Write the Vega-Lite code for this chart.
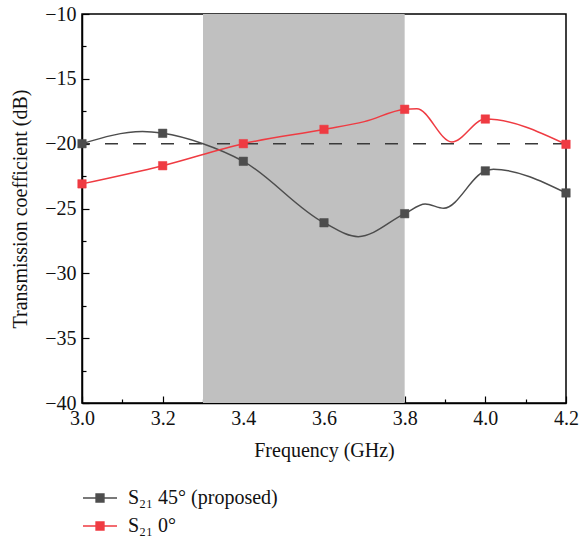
{
  "$schema": "https://vega.github.io/schema/vega-lite/v6.json",
  "autosize": {"type": "none"},
  "padding": {"left": 82, "top": 14, "right": 16, "bottom": 141},
  "width": 484,
  "height": 389,
  "background": "white",
  "config": {
    "view": {"stroke": "black", "strokeWidth": 1.5},
    "font": "Liberation Serif",
    "axis": {
      "grid": false,
      "domainColor": "black",
      "domainWidth": 1.5,
      "tickColor": "black",
      "tickWidth": 1.2,
      "labelFont": "Liberation Serif",
      "labelFontSize": 20,
      "labelColor": "#111",
      "titleFont": "Liberation Serif",
      "titleFontSize": 20,
      "titleFontWeight": "normal",
      "titleColor": "#111"
    },
    "legend": {
      "orient": "none",
      "legendX": 0,
      "legendY": 466,
      "direction": "vertical",
      "symbolType": "M-1,0H-0.23M0.23,0H1M-0.23,-0.23H0.23V0.23H-0.23Z",
      "symbolSize": 1156,
      "symbolStrokeWidth": 1.5,
      "labelFont": "Liberation Serif",
      "labelFontSize": 20,
      "labelColor": "#111",
      "labelOffset": 10,
      "rowPadding": -8,
      "labelLimit": 400
    }
  },
  "datasets": {
    "band": [{"start": 3.3, "end": 3.8}],
    "ref": [{"level": -20}],
    "markers": [
      {"series": "S₂₁ 45° (proposed)", "freq": 3.0, "db": -20.0},
      {"series": "S₂₁ 45° (proposed)", "freq": 3.2, "db": -19.2},
      {"series": "S₂₁ 45° (proposed)", "freq": 3.4, "db": -21.36},
      {"series": "S₂₁ 45° (proposed)", "freq": 3.6, "db": -26.1},
      {"series": "S₂₁ 45° (proposed)", "freq": 3.8, "db": -25.4},
      {"series": "S₂₁ 45° (proposed)", "freq": 4.0, "db": -22.1},
      {"series": "S₂₁ 45° (proposed)", "freq": 4.2, "db": -23.8},
      {"series": "S₂₁ 0°", "freq": 3.0, "db": -23.1},
      {"series": "S₂₁ 0°", "freq": 3.2, "db": -21.7},
      {"series": "S₂₁ 0°", "freq": 3.4, "db": -20.0},
      {"series": "S₂₁ 0°", "freq": 3.6, "db": -18.9},
      {"series": "S₂₁ 0°", "freq": 3.8, "db": -17.35},
      {"series": "S₂₁ 0°", "freq": 4.0, "db": -18.1},
      {"series": "S₂₁ 0°", "freq": 4.2, "db": -20.05}
    ],
    "curves": [
      {"series": "S₂₁ 45° (proposed)", "freq": 3.0, "db": -20.0},
      {"series": "S₂₁ 45° (proposed)", "freq": 3.15, "db": -19.07},
      {"series": "S₂₁ 45° (proposed)", "freq": 3.2, "db": -19.2},
      {"series": "S₂₁ 45° (proposed)", "freq": 3.3, "db": -20.0},
      {"series": "S₂₁ 45° (proposed)", "freq": 3.4, "db": -21.36},
      {"series": "S₂₁ 45° (proposed)", "freq": 3.6, "db": -26.1},
      {"series": "S₂₁ 45° (proposed)", "freq": 3.685, "db": -27.17},
      {"series": "S₂₁ 45° (proposed)", "freq": 3.8, "db": -25.4},
      {"series": "S₂₁ 45° (proposed)", "freq": 3.851, "db": -24.65},
      {"series": "S₂₁ 45° (proposed)", "freq": 3.897, "db": -24.98},
      {"series": "S₂₁ 45° (proposed)", "freq": 4.0, "db": -22.1},
      {"series": "S₂₁ 45° (proposed)", "freq": 4.02, "db": -21.98},
      {"series": "S₂₁ 45° (proposed)", "freq": 4.2, "db": -23.8},
      {"series": "S₂₁ 0°", "freq": 3.0, "db": -23.1},
      {"series": "S₂₁ 0°", "freq": 3.2, "db": -21.7},
      {"series": "S₂₁ 0°", "freq": 3.4, "db": -20.0},
      {"series": "S₂₁ 0°", "freq": 3.6, "db": -18.9},
      {"series": "S₂₁ 0°", "freq": 3.7, "db": -18.3},
      {"series": "S₂₁ 0°", "freq": 3.8, "db": -17.35},
      {"series": "S₂₁ 0°", "freq": 3.83, "db": -17.3},
      {"series": "S₂₁ 0°", "freq": 3.917, "db": -19.87},
      {"series": "S₂₁ 0°", "freq": 4.0, "db": -18.1},
      {"series": "S₂₁ 0°", "freq": 4.2, "db": -20.05}
    ]
  },
  "encoding": {
    "x": {
      "type": "quantitative",
      "scale": {"domain": [3.0, 4.2], "nice": false, "zero": false},
      "axis": {
        "title": "Frequency (GHz)",
        "values": [3.0, 3.1, 3.2, 3.3, 3.4, 3.5, 3.6, 3.7, 3.8, 3.9, 4.0, 4.1, 4.2],
        "labelExpr": "round(datum.value*10) % 2 === 0 ? format(datum.value, '.1f') : ''",
        "tickSize": {"condition": {"test": "round(datum.value*10) % 2 === 0", "value": -7}, "value": -4},
        "labelPadding": 12,
        "titlePadding": 12,
        "labelFlush": false
      }
    },
    "y": {
      "type": "quantitative",
      "scale": {"domain": [-40, -10], "nice": false, "zero": false},
      "axis": {
        "title": "Transmission coefficient (dB)",
        "values": [-40, -37.5, -35, -32.5, -30, -27.5, -25, -22.5, -20, -17.5, -15, -12.5, -10],
        "labelExpr": "datum.value % 5 === 0 ? format(datum.value, 'd') : ''",
        "tickSize": {"condition": {"test": "datum.value % 5 === 0", "value": -7}, "value": -4},
        "labelPadding": 13,
        "titlePadding": 14,
        "labelFlush": false
      }
    }
  },
  "layer": [
    {
      "data": {"name": "band"},
      "mark": {"type": "rect", "color": "#c0c0c0"},
      "encoding": {
        "x": {"field": "start", "type": "quantitative"},
        "x2": {"field": "end"}
      }
    },
    {
      "data": {"name": "ref"},
      "mark": {"type": "rule", "color": "#3a3a3a", "strokeWidth": 1.5, "strokeDash": [13, 15]},
      "encoding": {
        "y": {"field": "level", "type": "quantitative"}
      }
    },
    {
      "data": {"name": "curves"},
      "mark": {"type": "line", "interpolate": "monotone", "strokeWidth": 1.5},
      "encoding": {
        "x": {"field": "freq", "type": "quantitative"},
        "y": {"field": "db", "type": "quantitative"},
        "stroke": {
          "field": "series", "type": "nominal", "title": null,
          "scale": {"domain": ["S₂₁ 45° (proposed)", "S₂₁ 0°"], "range": ["#4d4d4d", "#ef3b42"]}
        }
      }
    },
    {
      "data": {"name": "markers"},
      "mark": {"type": "point", "shape": "square", "filled": true, "size": 72, "strokeWidth": 0.5, "opacity": 1},
      "encoding": {
        "x": {"field": "freq", "type": "quantitative"},
        "y": {"field": "db", "type": "quantitative"},
        "fill": {
          "field": "series", "type": "nominal", "title": null,
          "scale": {"domain": ["S₂₁ 45° (proposed)", "S₂₁ 0°"], "range": ["#4d4d4d", "#ef3b42"]}
        },
        "stroke": {
          "field": "series", "type": "nominal", "title": null,
          "scale": {"domain": ["S₂₁ 45° (proposed)", "S₂₁ 0°"], "range": ["#4d4d4d", "#ef3b42"]}
        }
      }
    }
  ]
}
